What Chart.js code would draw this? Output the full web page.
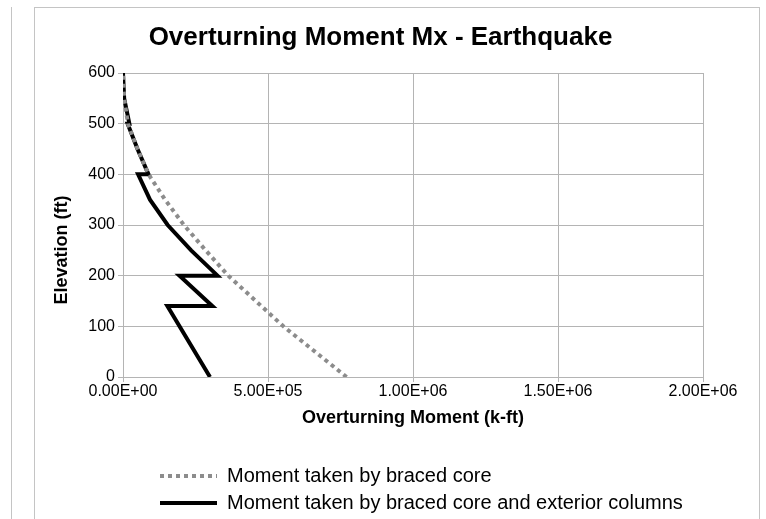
<!DOCTYPE html>
<html>
<head>
<meta charset="utf-8">
<script src="https://cdn.jsdelivr.net/npm/chart.js@4/dist/chart.umd.min.js"></script>
<style>
  html, body { margin: 0; padding: 0; background: #fff; }
  #wrap { position: relative; width: 766px; height: 519px; overflow: hidden; }
  #chart { position: absolute; left: 0; top: 0; }
  .rule { position: absolute; border-left: 1px solid #c4c4c4; }
  #frame { position: absolute; left: 34px; top: 7px; width: 724px; height: 530px;
           border: 1px solid #c4c4c4; border-bottom: none; }
</style>
</head>
<body>
<div id="wrap">
  <div class="rule" style="left:11px; top:7px; height:512px;"></div>
  <div id="frame"></div>
  <canvas id="chart" width="766" height="519"></canvas>
</div>
<script>
// elevation (ft) and overturning moment (k-ft)
const coreElev = [0, 50, 100, 150, 200, 250, 300, 350, 400, 450, 500, 550, 600];
const coreMoment = [771000, 662000, 553000, 458000, 363000, 285000, 210000, 145000, 88000, 50000, 17000, 4000, 0];

const totalElev = [0, 140, 140, 200, 200, 250, 300, 350, 400, 400, 450, 500, 500, 550, 600];
const totalMoment = [300000, 153000, 308000, 195000, 326000, 235000, 154000, 93000, 52000, 88000, 50000, 16000, 22000, 4000, 0];

const seriesNames = ['Moment taken by braced core', 'Moment taken by braced core and exterior columns'];

const xTicks = [0, 500000, 1000000, 1500000, 2000000];
const yTicks = [0, 100, 200, 300, 400, 500, 600];

const FONT = '"Liberation Sans", Arial, sans-serif';

function sci(v) {
    const parts = v.toExponential(2).split('e');
    const n = parseInt(parts[1], 10);
    return parts[0] + 'E' + (n < 0 ? '-' : '+') + String(Math.abs(n)).padStart(2, '0');
}

function points(xs, ys) {
    return xs.map((x, i) => ({ x: x, y: ys[i] }));
}

// nudge title and legend sideways, like the original
const nudge = {
    id: 'nudge',
    afterLayout(chart) {
        chart.legend.left += 30;
        chart.legend.right += 30;
        chart.titleBlock.left += 9;
        chart.titleBlock.right += 9;
    }
};

const gridColor = '#b4b4b4';

new Chart(document.getElementById('chart'), {
    type: 'scatter',
    data: {
        datasets: [{
            label: seriesNames[0],
            data: points(coreMoment, coreElev),
            showLine: true,
            borderColor: '#8c8c8c',
            backgroundColor: '#8c8c8c',
            borderWidth: 4,
            borderDash: [4, 4],
            borderCapStyle: 'butt',
            pointRadius: 0,
            pointHoverRadius: 0
        }, {
            label: seriesNames[1],
            data: points(totalMoment, totalElev),
            showLine: true,
            borderColor: '#000',
            backgroundColor: '#000',
            borderWidth: 4,
            borderJoinStyle: 'miter',
            pointRadius: 0,
            pointHoverRadius: 0
        }]
    },
    options: {
        responsive: false,
        animation: false,
        layout: { padding: { left: 40, right: 63, top: 0, bottom: -4 } },
        plugins: {
            title: {
                display: true,
                text: 'Overturning Moment Mx - Earthquake',
                color: '#000',
                font: { family: FONT, size: 26, weight: 'bold' },
                padding: { top: 22.4, bottom: 19.4 }
            },
            legend: {
                position: 'bottom',
                align: 'start',
                fullSize: false,
                labels: {
                    color: '#000',
                    font: { family: FONT, size: 20 },
                    usePointStyle: true,
                    pointStyle: 'line',
                    pointStyleWidth: 57,
                    padding: 7,
                    generateLabels(chart) {
                        const items = Chart.defaults.plugins.legend.labels.generateLabels(chart);
                        items.forEach((item, i) => {
                            const ds = chart.data.datasets[i];
                            item.strokeStyle = ds.borderColor;
                            item.lineWidth = ds.borderWidth;
                            item.lineDash = ds.borderDash || [];
                            item.lineCap = 'butt';
                        });
                        return items;
                    }
                }
            },
            tooltip: { enabled: false }
        },
        scales: {
            x: {
                type: 'linear',
                min: 0,
                max: 2000000,
                afterBuildTicks(scale) { scale.ticks = xTicks.map(v => ({ value: v })); },
                afterFit(scale) { scale.height = 82; },
                grid: { color: gridColor, tickLength: 5 },
                border: { color: gridColor },
                ticks: {
                    color: '#000',
                    font: { family: FONT, size: 16 },
                    padding: 0,
                    maxRotation: 0,
                    autoSkip: false,
                    callback: v => sci(v)
                },
                title: {
                    display: true,
                    text: 'Overturning Moment (k-ft)',
                    color: '#000',
                    font: { family: FONT, size: 18, weight: 'bold' },
                    padding: { top: 6, bottom: 30 }
                }
            },
            y: {
                type: 'linear',
                min: 0,
                max: 600,
                afterBuildTicks(scale) { scale.ticks = yTicks.map(v => ({ value: v })); },
                afterFit(scale) { scale.width = 83; },
                grid: { color: gridColor, tickLength: 5 },
                border: { color: gridColor },
                ticks: {
                    color: '#000',
                    font: { family: FONT, size: 16 },
                    padding: 3
                },
                title: {
                    display: true,
                    // trailing spaces move the words down a bit, as in the original
                    text: 'Elevation (ft)          ',
                    color: '#000',
                    font: { family: FONT, size: 18, weight: 'bold' },
                    padding: { top: 11, bottom: 4 }
                }
            }
        }
    },
    plugins: [nudge]
});
</script>
</body>
</html>
